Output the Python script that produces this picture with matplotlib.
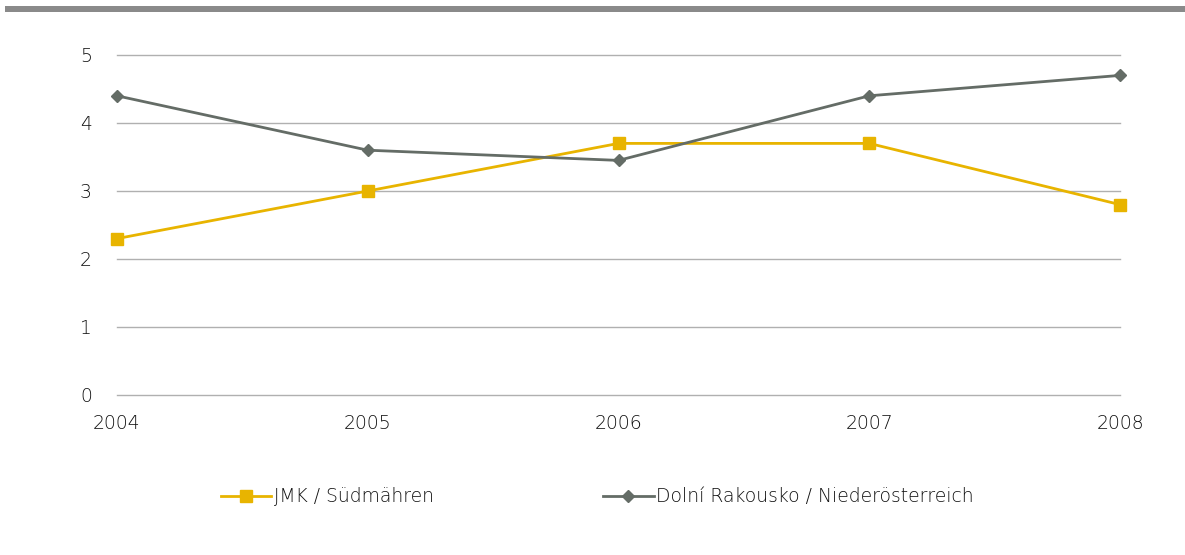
import matplotlib.pyplot as plt
from matplotlib.patches import Rectangle

years = [2004, 2005, 2006, 2007, 2008]
jmk = [2.3, 3.0, 3.7, 3.7, 2.8]
noe = [4.4, 3.6, 3.45, 4.4, 4.7]
y_ticks = [0, 1, 2, 3, 4, 5]

plt.rcParams['font.family'] = ['DejaVu Sans']
plt.rcParams['font.weight'] = 'light'

fig = plt.figure(figsize=(11.85, 5.55), dpi=100)
ax = fig.add_axes([117 / 1185, 1 - 395 / 555, (1120 - 117) / 1185, 340 / 555])

# grey band across the top
fig.add_artist(Rectangle((5 / 1185, 1 - 12 / 555), 1180 / 1185, 6 / 555,
                         transform=fig.transFigure, color='#8a8a8a', lw=0))

ax.plot(years, jmk, color='#e8b400', lw=2, marker='s', ms=8,
        label='JMK / Südmähren', clip_on=False, zorder=3)
ax.plot(years, noe, color='#646c66', lw=2, marker='D', ms=6,
        label='Dolní Rakousko / Niederösterreich', clip_on=False, zorder=4)

ax.set_xlim(2004, 2008)
ax.set_ylim(0, 5)
ax.set_yticks(y_ticks)
ax.set_xticks(years)
for y in y_ticks:
    ax.axhline(y, color='#b0b0b0', lw=1, zorder=1, clip_on=False)
for s in ax.spines.values():
    s.set_visible(False)
ax.tick_params(length=0, labelsize=13.5, labelcolor='#111111')
ax.tick_params(axis='y', pad=18)
ax.tick_params(axis='x', pad=14)

ax.legend(loc='center', bbox_to_anchor=(0.479, -0.3), ncol=2, frameon=False,
          fontsize=13.5, labelcolor='#111111', columnspacing=9,
          handlelength=2.7, handletextpad=0.15)

fig.savefig('out.png', dpi=100)
